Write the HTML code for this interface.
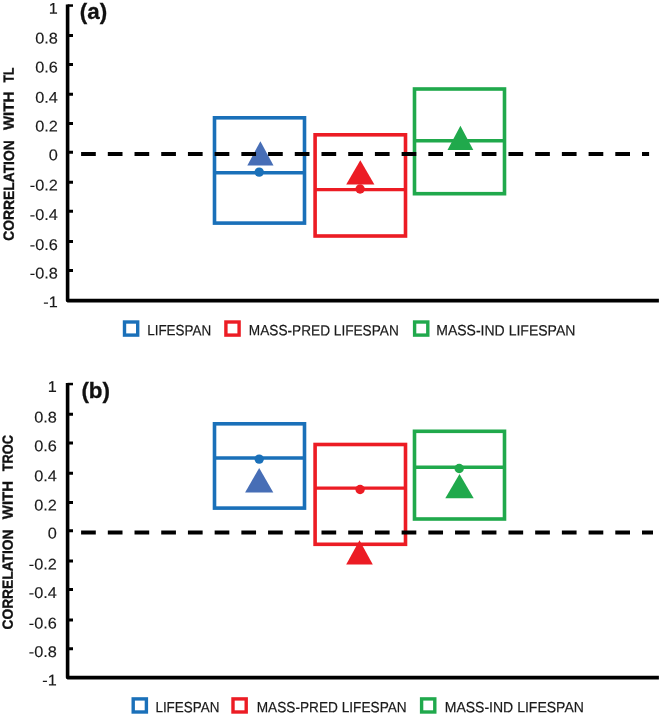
<!DOCTYPE html>
<html lang="en">
<head>
<meta charset="utf-8">
<title>Correlation with TL and TROC</title>
<style>
html,body{margin:0;padding:0;background:#fff;}
svg{display:block;}
text{font-family:"Liberation Sans",sans-serif;fill:#1a1a1a;}
.tk text{font-size:15.5px;text-anchor:end;stroke:#1a1a1a;stroke-width:0.15px;}
.yl text{font-size:14.8px;font-weight:bold;fill:#111;stroke:#111;stroke-width:0.35px;}
.pl{font-size:22.4px;font-weight:bold;fill:#111;stroke:#111;stroke-width:0.3px;}
.lg{font-size:14.9px;stroke:#1a1a1a;stroke-width:0.2px;}
</style>
</head>
<body>
<svg width="661" height="717" viewBox="0 0 661 717">
<rect width="661" height="717" fill="#fff"/>
<g id="panel-a">
<g class="yl">
<text transform="translate(13.85,240.7) rotate(-89.95)" textLength="100.4" lengthAdjust="spacingAndGlyphs">CORRELATION</text>
<text transform="translate(13.85,130.0) rotate(-89.95)" textLength="38.2" lengthAdjust="spacingAndGlyphs">WITH</text>
<text transform="translate(13.85,82.5) rotate(-89.95)" textLength="14.8" lengthAdjust="spacingAndGlyphs">TL</text>
</g>
<g class="tk">
<text transform="translate(57.8,13.8) rotate(0.04) scale(1.05,1)">1</text>
<text transform="translate(57.8,43.5) rotate(0.04) scale(1.05,1)">0.8</text>
<text transform="translate(57.8,72.6) rotate(0.04) scale(1.05,1)">0.6</text>
<text transform="translate(57.8,102.8) rotate(0.04) scale(1.05,1)">0.4</text>
<text transform="translate(57.8,131.4) rotate(0.04) scale(1.05,1)">0.2</text>
<text transform="translate(57.8,160.3) rotate(0.04) scale(1.05,1)">0</text>
<text transform="translate(57.8,190.4) rotate(0.04) scale(1.05,1)">-0.2</text>
<text transform="translate(57.8,219.9) rotate(0.04) scale(1.05,1)">-0.4</text>
<text transform="translate(57.8,249.9) rotate(0.04) scale(1.05,1)">-0.6</text>
<text transform="translate(57.8,278.6) rotate(0.04) scale(1.05,1)">-0.8</text>
<text transform="translate(57.8,307.2) rotate(0.04) scale(1.05,1)">-1</text>
</g>
<g stroke="#1a70b9" stroke-width="3.6" fill="none"><rect x="214.5" y="117.8" width="90.0" height="105.3"/><line x1="214.5" x2="304.5" y1="172.8" y2="172.8" stroke-width="3.4"/></g>
<circle cx="259.2" cy="172.1" r="4.7" fill="#1a70b9"/>
<g stroke="#ec1c24" stroke-width="3.6" fill="none"><rect x="315.1" y="134.8" width="90.4" height="101.2"/><line x1="315.1" x2="405.5" y1="189.6" y2="189.6" stroke-width="3.4"/></g>
<circle cx="360.1" cy="189" r="4.7" fill="#ec1c24"/>
<g stroke="#20a94c" stroke-width="3.6" fill="none"><rect x="414.5" y="89.0" width="90.0" height="104.7"/><line x1="414.5" x2="504.5" y1="140.7" y2="140.7" stroke-width="3.4"/></g>
<circle cx="459.2" cy="140.7" r="4.7" fill="#20a94c"/>
<polygon points="260.4,141.3 273.5,165.4 247.3,165.4" fill="#476eb6"/>
<polygon points="360.3,160.2 374.4,184.6 346.2,184.6" fill="#ec1c24"/>
<polygon points="460.4,125.7 473.3,150.0 447.5,150.0" fill="#20a94c"/>
<line x1="81.1" x2="649.1" y1="154.0" y2="154.0" stroke="#000" stroke-width="3.8" stroke-dasharray="14.7 12.01"/>
<path d="M67.6 4.4V300.6H658.9" fill="none" stroke="#000" stroke-width="3.6" stroke-linejoin="round"/>
<path d="M67.6 5.55H73" fill="none" stroke="#000" stroke-width="2.5"/>
<path d="M67.6 35.4H73 M67.6 64.5H73 M67.6 94.2H73 M67.6 123.5H73 M67.6 152.3H73 M67.6 182.3H73 M67.6 211.2H73 M67.6 241.5H73 M67.6 270.4H73" fill="none" stroke="#000" stroke-width="3"/>
<text class="pl" x="79.8" y="18.9">(a)</text>
<rect x="124.5" y="322.0" width="13.2" height="13.1" fill="none" stroke="#1a70b9" stroke-width="3.4"/>
<text class="lg" transform="translate(147.2,335.35) rotate(0.04)" textLength="64" lengthAdjust="spacingAndGlyphs">LIFESPAN</text>
<rect x="225.9" y="322.0" width="13.2" height="13.1" fill="none" stroke="#ec1c24" stroke-width="3.4"/>
<text class="lg" transform="translate(248.8,335.35) rotate(0.04)" textLength="150" lengthAdjust="spacingAndGlyphs">MASS-PRED LIFESPAN</text>
<rect x="414.6" y="322.0" width="13.2" height="13.1" fill="none" stroke="#20a94c" stroke-width="3.4"/>
<text class="lg" transform="translate(436.2,335.35) rotate(0.04)" textLength="139.2" lengthAdjust="spacingAndGlyphs">MASS-IND LIFESPAN</text>
</g>
<g id="panel-b">
<g class="yl">
<text transform="translate(12.8,629.5) rotate(-89.95)" textLength="100.0" lengthAdjust="spacingAndGlyphs">CORRELATION</text>
<text transform="translate(12.8,519.2) rotate(-89.95)" textLength="38.2" lengthAdjust="spacingAndGlyphs">WITH</text>
<text transform="translate(12.8,471.3) rotate(-89.95)" textLength="36.4" lengthAdjust="spacingAndGlyphs">TROC</text>
</g>
<g class="tk">
<text transform="translate(56.8,392.1) rotate(0.04) scale(1.05,1)">1</text>
<text transform="translate(56.8,422.4) rotate(0.04) scale(1.05,1)">0.8</text>
<text transform="translate(56.8,451.2) rotate(0.04) scale(1.05,1)">0.6</text>
<text transform="translate(56.8,481.2) rotate(0.04) scale(1.05,1)">0.4</text>
<text transform="translate(56.8,510.4) rotate(0.04) scale(1.05,1)">0.2</text>
<text transform="translate(56.8,538.5) rotate(0.04) scale(1.05,1)">0</text>
<text transform="translate(56.8,569.4) rotate(0.04) scale(1.05,1)">-0.2</text>
<text transform="translate(56.8,598.0) rotate(0.04) scale(1.05,1)">-0.4</text>
<text transform="translate(56.8,628.6) rotate(0.04) scale(1.05,1)">-0.6</text>
<text transform="translate(56.8,657.0) rotate(0.04) scale(1.05,1)">-0.8</text>
<text transform="translate(56.8,685.4) rotate(0.04) scale(1.05,1)">-1</text>
</g>
<g stroke="#1a70b9" stroke-width="3.6" fill="none"><rect x="214.5" y="423.8" width="90.0" height="84.3"/><line x1="214.5" x2="304.5" y1="458" y2="458" stroke-width="3.4"/></g>
<circle cx="259.2" cy="459.1" r="4.7" fill="#1a70b9"/>
<g stroke="#ec1c24" stroke-width="3.6" fill="none"><rect x="315.1" y="444.5" width="90.4" height="99.8"/><line x1="315.1" x2="405.5" y1="488.1" y2="488.1" stroke-width="3.4"/></g>
<circle cx="360.1" cy="489.5" r="4.7" fill="#ec1c24"/>
<g stroke="#20a94c" stroke-width="3.6" fill="none"><rect x="414.5" y="431.3" width="90.0" height="87.7"/><line x1="414.5" x2="504.5" y1="467.2" y2="467.2" stroke-width="3.4"/></g>
<circle cx="459.2" cy="468.5" r="4.7" fill="#20a94c"/>
<polygon points="259.2,467.9 273.3,492.6 245.1,492.6" fill="#476eb6"/>
<polygon points="359.5,540.2 372.8,564.6 346.2,564.6" fill="#ec1c24"/>
<polygon points="459.5,474.0 473.7,498.2 445.3,498.2" fill="#20a94c"/>
<line x1="81.1" x2="653.0" y1="532.5" y2="532.5" stroke="#000" stroke-width="3.8" stroke-dasharray="14.7 12.01"/>
<path d="M67.6 382.9V677.6H658.9" fill="none" stroke="#000" stroke-width="3.6" stroke-linejoin="round"/>
<path d="M67.6 384.05H73" fill="none" stroke="#000" stroke-width="2.5"/>
<path d="M67.6 414.3H73 M67.6 443.0H73 M67.6 473.3H73 M67.6 502.5H73 M67.6 530.7H73 M67.6 560.9H73 M67.6 589.6H73 M67.6 620.0H73 M67.6 648.8H73" fill="none" stroke="#000" stroke-width="3"/>
<text class="pl" x="81.4" y="397.6">(b)</text>
<rect x="133.2" y="698.9" width="13.2" height="13.1" fill="none" stroke="#1a70b9" stroke-width="3.4"/>
<text class="lg" transform="translate(155.4,712.25) rotate(0.04)" textLength="64" lengthAdjust="spacingAndGlyphs">LIFESPAN</text>
<rect x="233.0" y="698.9" width="13.2" height="13.1" fill="none" stroke="#ec1c24" stroke-width="3.4"/>
<text class="lg" transform="translate(256.7,712.25) rotate(0.04)" textLength="150" lengthAdjust="spacingAndGlyphs">MASS-PRED LIFESPAN</text>
<rect x="421.6" y="698.9" width="13.2" height="13.1" fill="none" stroke="#20a94c" stroke-width="3.4"/>
<text class="lg" transform="translate(444.7,712.25) rotate(0.04)" textLength="139.2" lengthAdjust="spacingAndGlyphs">MASS-IND LIFESPAN</text>
</g>
</svg>
</body>
</html>
